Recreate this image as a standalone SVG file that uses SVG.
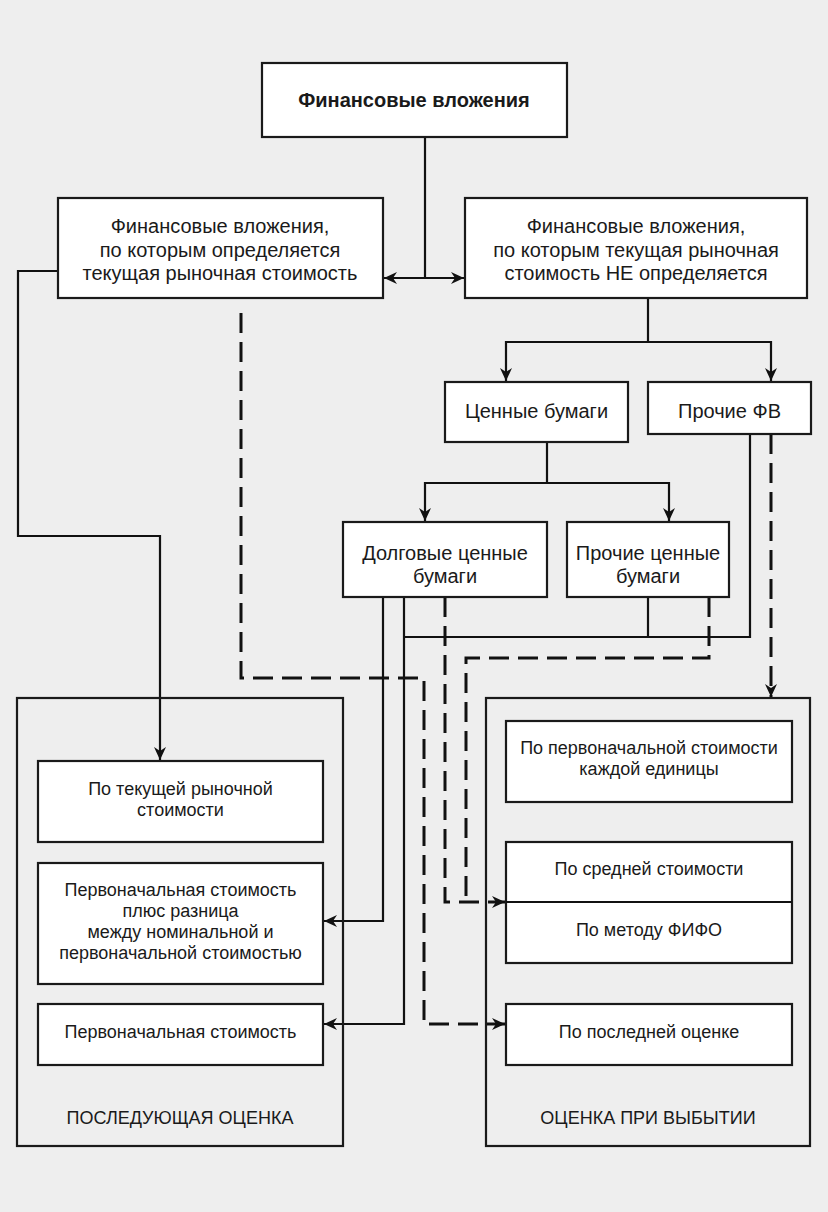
<svg xmlns="http://www.w3.org/2000/svg" width="828" height="1212" viewBox="0 0 828 1212">
<defs>
<style>
.bx{fill:#fff;stroke:#1a1a1a;stroke-width:2.2}
.ct{fill:none;stroke:#1a1a1a;stroke-width:2.2}
.t{font-family:"Liberation Sans",Arial,sans-serif;font-size:18px;fill:#1a1a1a;text-anchor:middle}
.tb{font-weight:bold;font-size:20px}
.tl{font-size:20px}
.c{fill:none;stroke:#111;stroke-width:2.2}
.d{fill:none;stroke:#111;stroke-width:3;stroke-dasharray:20 9}
</style>
<marker id="ah" markerUnits="userSpaceOnUse" markerWidth="14" markerHeight="14" viewBox="0 0 14 14" refX="13" refY="7" orient="auto">
<path d="M0,1 L13,7 L0,13 L4,7 z" fill="#111"/>
</marker>
</defs>
<rect width="828" height="1212" fill="#eeeeee"/>

<g id="connectors">
<path class="c" d="M425,137 V278"/>
<path class="c" d="M425,278 H384" marker-end="url(#ah)"/>
<path class="c" d="M425,278 H464" marker-end="url(#ah)"/>
<path class="c" d="M648,298 V342"/>
<path class="c" d="M648,342 H506 V381" marker-end="url(#ah)"/>
<path class="c" d="M648,342 H771 V381" marker-end="url(#ah)"/>
<path class="c" d="M547,442 V483"/>
<path class="c" d="M547,483 H425 V521" marker-end="url(#ah)"/>
<path class="c" d="M547,483 H669 V521" marker-end="url(#ah)"/>
<path class="c" d="M58,271 H18 V536 H160 V760" marker-end="url(#ah)"/>
<path class="c" d="M383,597 V921 H324" marker-end="url(#ah)"/>
<path class="c" d="M404,597 V1024 H324" marker-end="url(#ah)"/>
<path class="c" d="M750,434 V637 H404"/>
<path class="c" d="M648,597 V637"/>
<path class="d" d="M241,313 V678 H424 V1024 H505" marker-end="url(#ah)"/>
<path class="d" d="M445,597 V902 H505" marker-end="url(#ah)"/>
<path class="d" d="M709,597 V658 H466 V902"/>
<path class="d" d="M771,434 V697" marker-end="url(#ah)"/>
</g>

<g id="n-root">
<rect class="bx" x="262" y="63" width="305" height="74"/>
<text class="t tb" x="414" y="107">Финансовые вложения</text>
</g>
<g id="n-market">
<rect class="bx" x="58" y="198" width="325" height="100"/>
<text class="t tl" x="220" y="233">Финансовые вложения,</text>
<text class="t tl" x="220" y="257">по которым определяется</text>
<text class="t tl" x="220" y="280">текущая рыночная стоимость</text>
</g>
<g id="n-nomarket">
<rect class="bx" x="465" y="198" width="342" height="100"/>
<text class="t tl" x="636" y="233">Финансовые вложения,</text>
<text class="t tl" x="636" y="257">по которым текущая рыночная</text>
<text class="t tl" x="636" y="280">стоимость НЕ определяется</text>
</g>
<g id="n-securities">
<rect class="bx" x="445" y="382" width="183" height="60"/>
<text class="t tl" x="536.5" y="418">Ценные бумаги</text>
</g>
<g id="n-otherfv">
<rect class="bx" x="648" y="382" width="163" height="52"/>
<text class="t tl" x="729.5" y="418">Прочие ФВ</text>
</g>
<g id="n-debt">
<rect class="bx" x="343" y="522" width="204" height="75"/>
<text class="t tl" x="445" y="560">Долговые ценные</text>
<text class="t tl" x="445" y="583">бумаги</text>
</g>
<g id="n-othersec">
<rect class="bx" x="567" y="522" width="162" height="75"/>
<text class="t tl" x="648" y="560">Прочие ценные</text>
<text class="t tl" x="648" y="583">бумаги</text>
</g>

<g id="g-subsequent">
<rect class="ct" x="17" y="698" width="326" height="448"/>
<text class="t" x="180" y="1124">ПОСЛЕДУЮЩАЯ ОЦЕНКА</text>
</g>
<g id="n-current">
<rect class="bx" x="38" y="761" width="285" height="81"/>
<text class="t" x="180.5" y="795">По текущей рыночной</text>
<text class="t" x="180.5" y="816">стоимости</text>
</g>
<g id="n-amort">
<rect class="bx" x="38" y="863" width="285" height="121"/>
<text class="t" x="180.5" y="896">Первоначальная стоимость</text>
<text class="t" x="180.5" y="917">плюс разница</text>
<text class="t" x="180.5" y="938">между номинальной и</text>
<text class="t" x="180.5" y="959">первоначальной стоимостью</text>
</g>
<g id="n-initial">
<rect class="bx" x="38" y="1004" width="285" height="61"/>
<text class="t" x="180.5" y="1038">Первоначальная стоимость</text>
</g>

<g id="g-disposal">
<rect class="ct" x="486" y="698" width="324" height="448"/>
<text class="t" x="648" y="1124">ОЦЕНКА ПРИ ВЫБЫТИИ</text>
</g>
<g id="n-each">
<rect class="bx" x="506" y="721" width="286" height="81"/>
<text class="t" x="649" y="754">По первоначальной стоимости</text>
<text class="t" x="649" y="775">каждой единицы</text>
</g>
<g id="n-avg-fifo">
<rect class="bx" x="506" y="842" width="286" height="121"/>
<line class="c" x1="506" y1="902" x2="792" y2="902"/>
<text class="t" x="649" y="875">По средней стоимости</text>
<text class="t" x="649" y="936">По методу ФИФО</text>
</g>
<g id="n-last">
<rect class="bx" x="506" y="1004" width="286" height="61"/>
<text class="t" x="649" y="1038">По последней оценке</text>
</g>
</svg>
